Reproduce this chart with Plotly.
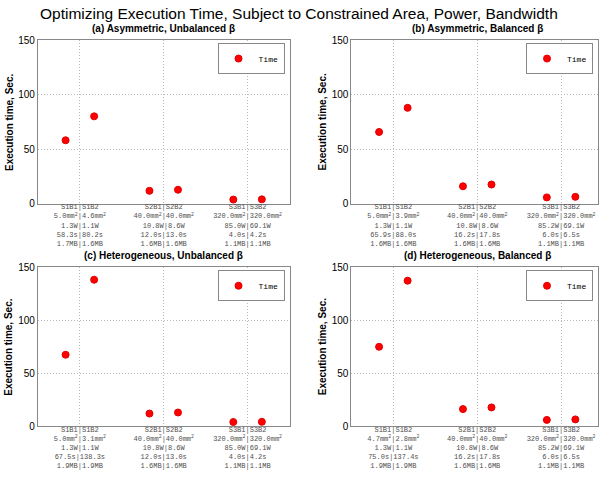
import plotly.graph_objects as go

W, H = 599, 482

configs = ["S1B1", "S1B2", "S2B1", "S2B2", "S3B1", "S3B2"]
groups = [1, 2, 3]

titles = [
    "(a) Asymmetric, Unbalanced β",
    "(b) Asymmetric, Balanced β",
    "(c) Heterogeneous, Unbalanced β",
    "(d) Heterogeneous, Balanced β",
]

time_a = [58.3, 80.2, 12.0, 13.0, 4.0, 4.2]
time_b = [65.9, 88.0, 16.2, 17.8, 6.0, 6.5]
time_c = [67.5, 138.3, 12.0, 13.0, 4.0, 4.2]
time_d = [75.0, 137.4, 16.2, 17.8, 6.0, 6.5]

area_a = ["5.0", "4.6", "40.0", "40.0", "320.0", "320.0"]
area_b = ["5.0", "3.9", "40.0", "40.0", "320.0", "320.0"]
area_c = ["5.0", "3.1", "40.0", "40.0", "320.0", "320.0"]
area_d = ["4.7", "2.8", "40.0", "40.0", "320.0", "320.0"]

power_a = ["1.3", "1.1", "10.8", "8.6", "85.0", "69.1"]
power_b = ["1.3", "1.1", "10.8", "8.6", "85.2", "69.1"]
power_c = ["1.3", "1.1", "10.8", "8.6", "85.0", "69.1"]
power_d = ["1.3", "1.1", "10.8", "8.6", "85.2", "69.1"]

mem_a = ["1.7", "1.6", "1.6", "1.6", "1.1", "1.1"]
mem_b = ["1.6", "1.6", "1.6", "1.6", "1.1", "1.1"]
mem_c = ["1.9", "1.9", "1.6", "1.6", "1.1", "1.1"]
mem_d = ["1.9", "1.9", "1.6", "1.6", "1.1", "1.1"]

y_ticks = [0, 50, 100, 150]

panels = [
    (time_a, area_a, power_a, mem_a),
    (time_b, area_b, power_b, mem_b),
    (time_c, area_c, power_c, mem_c),
    (time_d, area_d, power_d, mem_d),
]

MONO = "Liberation Mono, Courier New, monospace"
SANS = "Liberation Sans, Arial, sans-serif"

# pixel layout: (left, right, top, bottom)
boxes = [
    (38, 290, 35, 203),
    (352, 599, 35, 203),
    (38, 290, 268, 431),
    (352, 599, 268, 431),
]
xranges = [[0.5, 3.5], [0.5, 3.44], [0.5, 3.5], [0.5, 3.44]]
offset = 0.17

fig = go.Figure()

for i, (times, area, power, mem) in enumerate(panels):
    n = "" if i == 0 else str(i + 1)
    xs = []
    for g in groups:
        xs += [g - offset, g + offset]
    ticktext = []
    for k in range(3):
        a, b = 2 * k, 2 * k + 1
        lines = [
            f"{configs[a]}|{configs[b]}",
            f"{area[a]}mm<sup>2</sup>|{area[b]}mm<sup>2</sup>",
            f"{power[a]}W|{power[b]}W",
            f"{times[a]:.1f}s|{times[b]:.1f}s",
            f"{mem[a]}MB|{mem[b]}MB",
        ]
        ticktext.append("<br>".join(lines))
    legname = "legend" if i == 0 else f"legend{i + 1}"
    fig.add_trace(go.Scatter(
        x=xs, y=times, mode="markers", name="Time",
        marker=dict(color="#ff0000", size=7, line=dict(color="#e00000", width=1)),
        xaxis=f"x{n}", yaxis=f"y{n}", legend=legname, showlegend=True,
    ))
    l, r, t, b = boxes[i]
    ax = dict(
        domain=[l / W, r / W], range=xranges[i], tickvals=groups, ticktext=ticktext,
        tickfont=dict(family=MONO, size=7, color="#505050"),
        ticklabeloverflow="allow", ticklabelstandoff=-4,
        showgrid=True, gridcolor="#b8b8b8", griddash="1px,2px", gridwidth=1,
        showline=True, linecolor="#888888", linewidth=1, mirror=True,
        zeroline=False, anchor=f"y{n}", ticks="",
    )
    ay = dict(
        domain=[1 - b / H, 1 - t / H], range=[0, 150], tickvals=y_ticks,
        tickfont=dict(family=SANS, size=10, color="#000000"),
        showgrid=True, gridcolor="#b8b8b8", griddash="1px,2px", gridwidth=1,
        showline=True, linecolor="#888888", linewidth=1, mirror=True,
        zeroline=False, anchor=f"x{n}", ticks="",
    )
    fig.layout[f"xaxis{n}"] = ax
    fig.layout[f"yaxis{n}"] = ay
    fig.layout[legname] = dict(
        x=(r - 5) / W, y=1 - (t + 3) / H, xanchor="right", yanchor="top",
        bgcolor="white", bordercolor="#888888", borderwidth=1,
        font=dict(family=MONO, size=8, color="#000000"),
        tracegroupgap=0, itemwidth=30,
    )
    # subplot title
    fig.add_annotation(
        x=(l + 126) / W,
        y=1 - (t - 12) / H, xref="paper", yref="paper",
        text=f"<b>{titles[i]}</b>", showarrow=False,
        font=dict(family=SANS, size=10, color="#000000"),
        xanchor="center", yanchor="middle",
    )
    # y-axis title
    fig.add_annotation(
        x=(l - 29) / W, y=1 - ((t + b) / 2) / H, xref="paper", yref="paper",
        text="<b>Execution time, Sec.</b>", showarrow=False, textangle=-90,
        font=dict(family=SANS, size=10, color="#000000"),
        xanchor="center", yanchor="middle",
    )

fig.add_annotation(
    x=0.5, y=1 - 8 / H, xref="paper", yref="paper",
    text="Optimizing Execution Time, Subject to Constrained Area, Power, Bandwidth",
    showarrow=False, font=dict(family=SANS, size=15.5, color="#000000"),
    xanchor="center", yanchor="middle",
)

fig.update_layout(
    width=W, height=H, margin=dict(l=0, r=0, t=0, b=0),
    paper_bgcolor="white", plot_bgcolor="white", showlegend=True,
)

fig.write_html("out.html")
